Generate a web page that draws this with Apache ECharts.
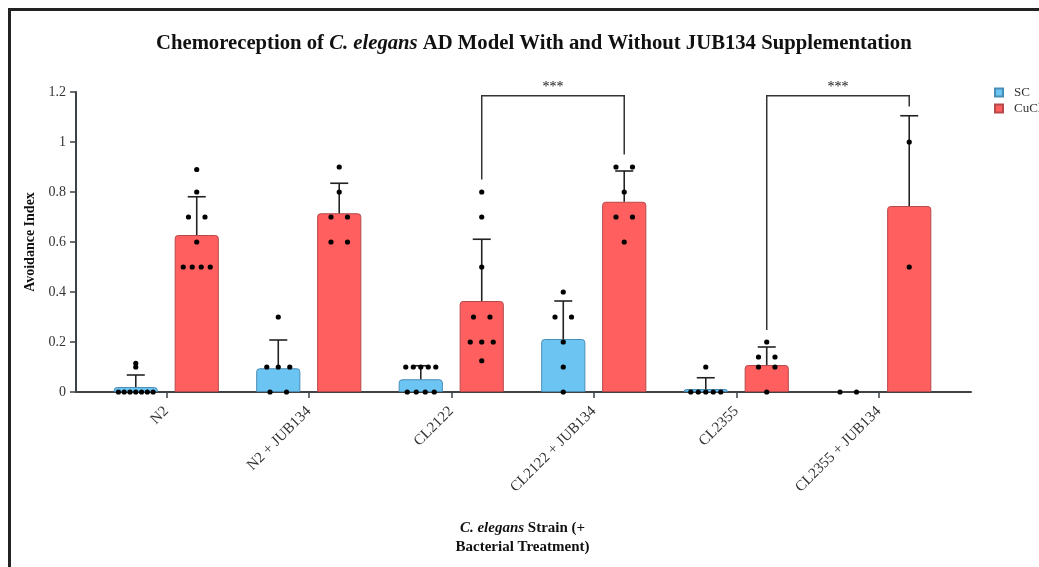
<!DOCTYPE html>
<html>
<head>
<meta charset="utf-8">
<script src="https://cdn.jsdelivr.net/npm/echarts@6/dist/echarts.min.js"></script>
<style>html,body{margin:0;padding:0;background:#fff}#c{width:1039px;height:567px}</style>
</head>
<body>
<div id="c"></div>
<script>
const categories = ['N2', 'N2 + JUB134', 'CL2122', 'CL2122 + JUB134', 'CL2355', 'CL2355 + JUB134'];
const seriesNames = ['SC', 'CuCl2'];
const scMean = [0.02, 0.095, 0.051, 0.212, 0.012, 0];
const scSD = [0.048, 0.113, 0.054, 0.152, 0.045, 0];
const cuMean = [0.628, 0.715, 0.364, 0.761, 0.108, 0.744];
const cuSD = [0.153, 0.12, 0.247, 0.123, 0.072, 0.361];
const scDots = [
  [0, 0, 0, 0, 0, 0, 0, 0.1, 0.115],
  [0, 0, 0.1, 0.1, 0.1, 0.3],
  [0, 0, 0, 0, 0.1, 0.1, 0.1, 0.1, 0.1],
  [0, 0.1, 0.2, 0.3, 0.3, 0.4],
  [0, 0, 0, 0, 0, 0.1],
  [0, 0]
];
const cuDots = [
  [0.5, 0.5, 0.5, 0.5, 0.6, 0.7, 0.7, 0.8, 0.89],
  [0.6, 0.6, 0.7, 0.7, 0.8, 0.9],
  [0.125, 0.2, 0.2, 0.2, 0.3, 0.3, 0.5, 0.7, 0.8],
  [0.6, 0.7, 0.7, 0.8, 0.9, 0.9],
  [0, 0.1, 0.1, 0.14, 0.14, 0.2],
  [0.5, 1.0]
];
// significance brackets: [fromCategory, toCategory, bracketY, fromLegEnd, toLegEnd]
const brackets = [
  [2, 3, 1.185, 0.85, 0.95],
  [4, 5, 1.185, 0.248, 1.142]
];
const bracketLabels = ['***', '***'];
const yTicks = { min: 0, max: 1.2, interval: 0.2 };

const BLUE = '#6CC4F2', BLUE_B = '#4A8DB6';
const RED = '#FF5F5F', RED_B = '#B5494B';
const BAR_W = 0.31, BAR_GAP = 0.38;
const FONT = 'Liberation Serif';

function sideOffset(api, side) {
  const catW = api.size([1, 0])[0];
  return (side === 0 ? -1 : 1) * catW * BAR_W * (1 + BAR_GAP) / 2;
}

function swarm(groups, side) {
  const out = [];
  groups.forEach((vals, ci) => {
    const rows = {};
    vals.forEach(v => { const k = v.toFixed(3); (rows[k] = rows[k] || []).push(v); });
    Object.values(rows).forEach(r => {
      const n = r.length;
      const sp = n > 1 ? 30 / n + 1.5 : 0;
      r.forEach((v, i) => out.push([ci, v, side, (i - (n - 1) / 2) * sp]));
    });
  });
  return out;
}
function barData(vals) {
  return vals.map(v => v === 0 ? { value: v, itemStyle: { borderWidth: 0 } } : v);
}

const errData = [];
scMean.forEach((m, i) => errData.push([i, m, scSD[i], 0]));
cuMean.forEach((m, i) => errData.push([i, m, cuSD[i], 1]));
const dotData = swarm(scDots, 0).concat(swarm(cuDots, 1));

const chart = echarts.init(document.getElementById('c'));
chart.setOption({
  animation: false,
  textStyle: { fontFamily: FONT },
  title: {
    text: '{b|Chemoreception of }{bi|C. elegans}{b| AD Model With and Without JUB134 Supplementation}',
    left: 151, top: 28,
    textStyle: {
      rich: {
        b: { fontFamily: FONT, fontWeight: 'bold', fontSize: 20.7, color: '#111' },
        bi: { fontFamily: FONT, fontWeight: 'bold', fontStyle: 'italic', fontSize: 20.7, color: '#111' }
      }
    }
  },
  legend: {
    orient: 'vertical', left: 989, top: 81, itemWidth: 8, itemHeight: 8, itemGap: 3,
    icon: 'rect',
    textStyle: { fontFamily: FONT, fontSize: 13, color: '#333', padding: [0, 0, 0, 6] },
    data: seriesNames
  },
  graphic: [{
    type: 'rect', silent: true,
    shape: { x: 9.5, y: 9.5, width: 1200, height: 800 },
    style: { fill: null, stroke: '#222', lineWidth: 3 }
  }],
  grid: [
    { left: 95, right: 89, top: 92, bottom: 175 },
    { left: 76, right: 68, top: 92, bottom: 175 }
  ],
  xAxis: [{
    type: 'category', data: categories, gridIndex: 0,
    axisLine: { show: false },
    axisTick: { show: true, alignWithLabel: true, length: 6, lineStyle: { color: '#3d4246', width: 1.5 } },
    axisLabel: { rotate: 45, margin: 17, fontFamily: FONT, fontSize: 15, color: '#333' },
    name: '{i|C. elegans}{n| Strain (+}\n{n|Bacterial Treatment)}',
    nameLocation: 'middle', nameGap: 127,
    nameTextStyle: {
      rich: {
        i: { fontFamily: FONT, fontWeight: 'bold', fontStyle: 'italic', fontSize: 15, color: '#111', lineHeight: 19 },
        n: { fontFamily: FONT, fontWeight: 'bold', fontSize: 15, color: '#111', lineHeight: 19 }
      }
    }
  }, {
    type: 'value', gridIndex: 1, min: 0, max: 1,
    axisLine: { show: true, lineStyle: { color: '#3d4246', width: 2 } },
    axisTick: { show: false }, axisLabel: { show: false }, splitLine: { show: false }
  }],
  yAxis: [{
    type: 'value', gridIndex: 0, min: yTicks.min, max: yTicks.max, interval: yTicks.interval,
    offset: 19,
    axisLine: { show: true, lineStyle: { color: '#3d4246', width: 2 } },
    axisTick: { show: true, length: 6, lineStyle: { color: '#3d4246', width: 1.5 } },
    axisLabel: { margin: 10, fontFamily: FONT, fontSize: 14, color: '#333' },
    splitLine: { show: false },
    name: 'Avoidance Index', nameLocation: 'middle', nameGap: 37, nameRotate: 90,
    nameTextStyle: { fontFamily: FONT, fontWeight: 'bold', fontSize: 14, color: '#111' }
  }, {
    type: 'value', gridIndex: 1, show: false, min: 0, max: 1
  }],
  series: [{
    name: seriesNames[0], type: 'bar', data: barData(scMean), barWidth: (BAR_W * 100) + '%', barGap: (BAR_GAP * 100) + '%',
    itemStyle: { color: BLUE, borderColor: BLUE_B, borderWidth: 1, borderRadius: [3, 3, 0, 0] }, z: 2
  }, {
    name: seriesNames[1], type: 'bar', data: barData(cuMean), barWidth: (BAR_W * 100) + '%', barGap: (BAR_GAP * 100) + '%',
    itemStyle: { color: RED, borderColor: RED_B, borderWidth: 1, borderRadius: [3, 3, 0, 0] }, z: 2
  }, {
    type: 'custom', data: errData, z: 3, silent: true,
    encode: { x: 0, y: 1 },
    renderItem: function (params, api) {
      const sd = api.value(2);
      if (!sd) return null;
      const ci = api.value(0), m = api.value(1);
      const off = sideOffset(api, api.value(3));
      const p0 = api.coord([ci, m]), p1 = api.coord([ci, m + sd]);
      const x = p0[0] + off;
      return { type: 'group', children: [
        { type: 'line', shape: { x1: x, y1: p0[1], x2: x, y2: p1[1] }, style: { stroke: '#222', lineWidth: 1.6 } },
        { type: 'line', shape: { x1: x - 9, y1: p1[1], x2: x + 9, y2: p1[1] }, style: { stroke: '#222', lineWidth: 1.6 } }
      ] };
    }
  }, {
    type: 'custom', data: dotData, z: 4, silent: true,
    encode: { x: 0, y: 1 },
    renderItem: function (params, api) {
      const c = api.coord([api.value(0), api.value(1)]);
      const off = sideOffset(api, api.value(2));
      return { type: 'circle', shape: { cx: c[0] + off + api.value(3), cy: c[1], r: 2.6 }, style: { fill: '#000' } };
    }
  }, {
    type: 'custom', data: brackets, z: 5, silent: true,
    encode: { x: 0, y: 2 },
    renderItem: function (params, api) {
      const a = api.value(0), b = api.value(1), y = api.value(2);
      const off = sideOffset(api, 1);
      const pa = api.coord([a, y]), pb = api.coord([b, y]);
      const ea = api.coord([a, api.value(3)]), eb = api.coord([b, api.value(4)]);
      const xa = pa[0] + off, xb = pb[0] + off;
      return { type: 'group', children: [
        { type: 'polyline', shape: { points: [[xa, ea[1]], [xa, pa[1]], [xb, pb[1]], [xb, eb[1]]] },
          style: { stroke: '#333', lineWidth: 1.5, fill: null } },
        { type: 'text', style: { text: bracketLabels[params.dataIndex], x: (xa + xb) / 2, y: pa[1] - 1,
          textAlign: 'center', textVerticalAlign: 'bottom', font: '14px "Liberation Serif"', fill: '#111' } }
      ] };
    }
  }]
});
</script>
</body>
</html>
